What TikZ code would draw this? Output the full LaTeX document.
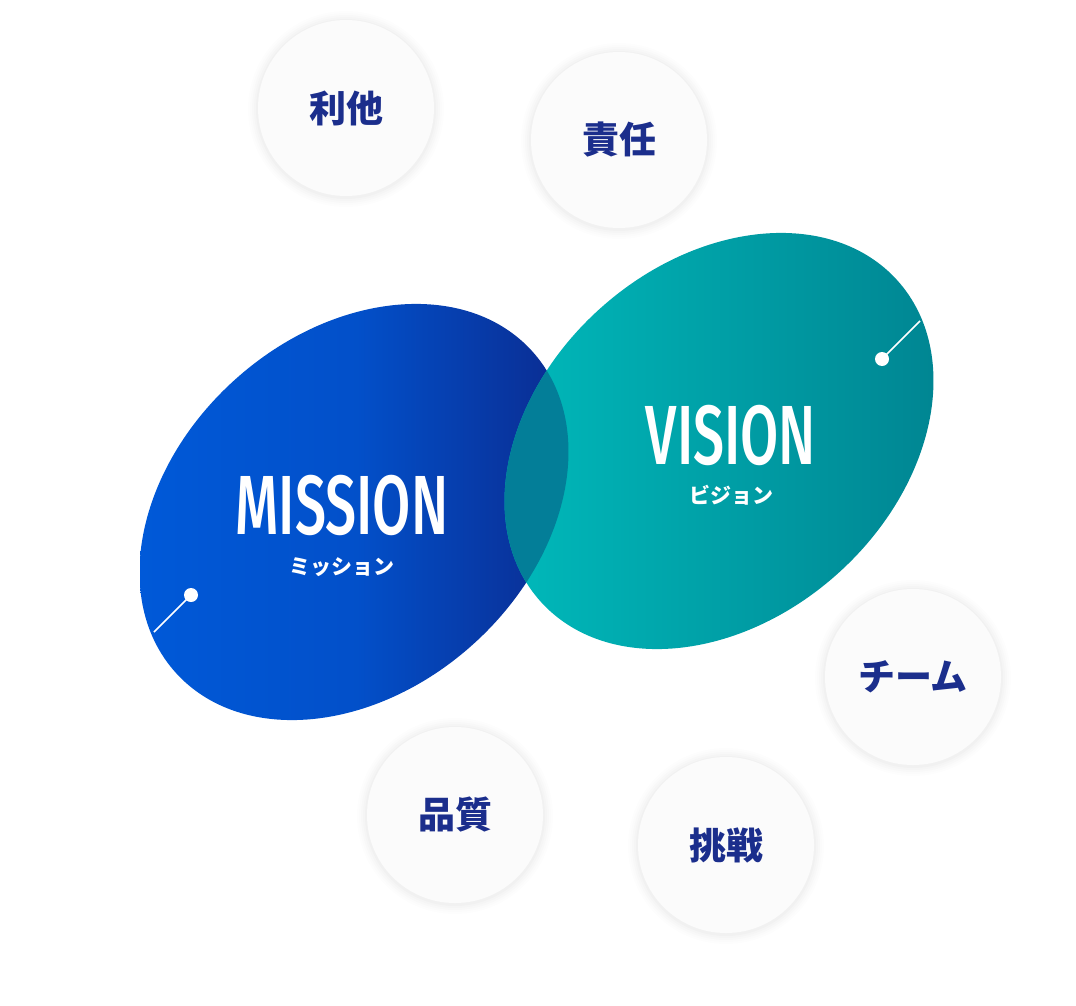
\documentclass[tikz,border=0pt]{standalone}
\usepackage{fontspec}
\newfontfamily\cjk{Noto Sans CJK JP}
\newfontfamily\lat{Fira Sans Medium}
\definecolor{navy}{HTML}{1B2E8C}
\definecolor{mA}{HTML}{0059D8}
\definecolor{mB}{HTML}{0B2A8E}
\definecolor{vA}{HTML}{00BABB}
\definecolor{vB}{HTML}{008592}
\definecolor{ov}{HTML}{037E98}
\begin{document}
\begin{tikzpicture}[x=1pt,y=1pt,
  bub/.style={circle,minimum size=176pt,fill=white!97!gray,inner sep=0pt,font=\cjk\bfseries\fontsize{37}{37}\selectfont,text=navy},
  dot/.style={circle,fill=white,inner sep=0pt,minimum size=14pt}]
\useasboundingbox (0,0) rectangle (1076,-1006);
\def\bubble#1#2#3#4{%
  \foreach \r/\o in {98/0.006,96/0.008,94/0.01,92/0.012,90/0.015}{\fill[black,opacity=\o] (#1,-#2-1) circle (\r);}
  \node[bub] (#3) at (#1,-#2) {#4};}
\bubble{346}{108}{b1}{利他}
\bubble{619}{140}{b2}{責任}
\bubble{913}{677}{b3}{チーム}
\bubble{455}{815}{b4}{品質}
\bubble{726}{845}{b5}{挑戦}
% mission
\begin{scope}
\clip[rotate around={42:(354,-512)}] (354,-512) ellipse (240 and 178);
\shade[left color=mA,right color=mB,middle color=mA!80!mB] (140,-300) rectangle (575,-725);
\end{scope}
\begin{scope}
\clip[rotate around={42:(719,-441)}] (719,-441) ellipse (240 and 178);
\shade[left color=vA,right color=vB] (500,-230) rectangle (940,-655);
\end{scope}
\begin{scope}
\clip[rotate around={42:(354,-512)}] (354,-512) ellipse (240 and 178);
\clip[rotate around={42:(719,-441)}] (719,-441) ellipse (240 and 178);
\fill[ov] (480,-300) rectangle (600,-650);
\end{scope}
\node[dot] (d1) at (191,-595) {};
\coordinate (e1) at (154,-632);
\draw[white,line width=1.5pt] (d1.center) -- (e1);
\node[dot] (d2) at (882,-359) {};
\coordinate (e2) at (920,-321);
\draw[white,line width=1.5pt] (d2.center) -- (e2);
\node[text=white,font=\lat\fontsize{84}{84}\selectfont] (m) at (342,-505) {\scalebox{0.66}[1]{MISSION}};
\node[text=white,font=\cjk\bfseries\fontsize{21}{21}\selectfont] (mk) at (342,-567) {ミッション};
\node[text=white,font=\lat\fontsize{84}{84}\selectfont] (v) at (731,-435) {\scalebox{0.66}[1]{VISION}};
\node[text=white,font=\cjk\bfseries\fontsize{21}{21}\selectfont] (vk) at (731,-495) {ビジョン};
\end{tikzpicture}
\end{document}
